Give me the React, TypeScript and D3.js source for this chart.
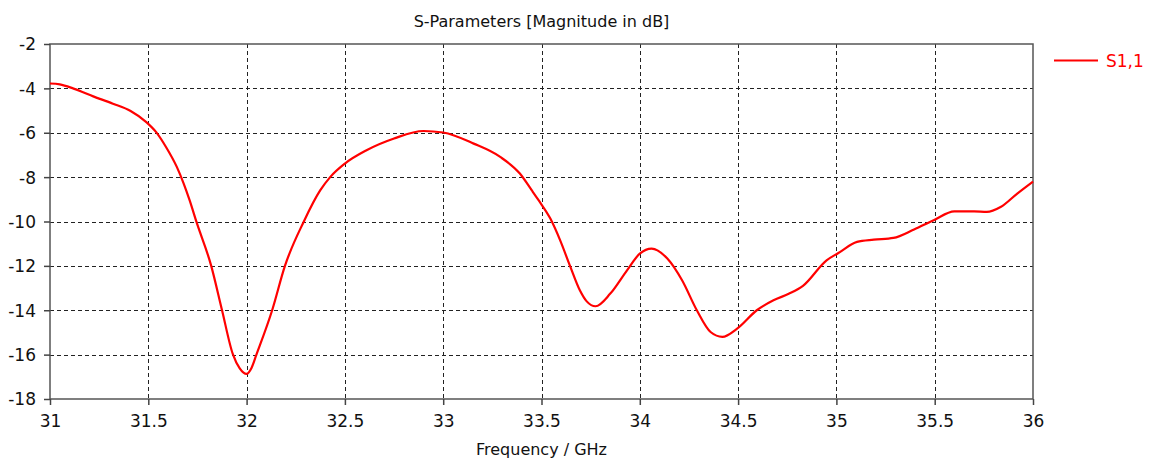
import * as d3 from 'd3';
import { useEffect, useRef } from 'react';

const freqGHz = [
  31.0, 31.05, 31.12, 31.22, 31.32, 31.41, 31.49, 31.54, 31.59, 31.645, 31.68, 31.71,
  31.745, 31.82, 31.875, 31.93, 31.965, 32.0, 32.025, 32.05, 32.13, 32.195, 32.29,
  32.375, 32.425, 32.5, 32.61, 32.75, 32.9, 33.0, 33.155, 33.29, 33.39, 33.45, 33.485,
  33.545, 33.595, 33.645, 33.695, 33.73, 33.775, 33.85, 33.935, 34.0, 34.06, 34.14,
  34.215, 34.29, 34.36, 34.42, 34.495, 34.595, 34.68, 34.76, 34.83, 34.95, 35.01,
  35.105, 35.19, 35.29, 35.395, 35.495, 35.6, 35.7, 35.765, 35.835, 35.92, 36.0,
];
const s11dB = [
  -3.78, -3.82, -4.01, -4.36, -4.69, -5.02, -5.52, -5.97, -6.64, -7.54, -8.29, -9.04,
  -10.02, -12.0, -14.0, -15.98, -16.62, -16.87, -16.6, -16.0, -14.0, -12.0, -10.02,
  -8.59, -8.0, -7.39, -6.79, -6.26, -5.92, -5.99, -6.49, -7.09, -7.84, -8.59, -9.04,
  -9.87, -10.85, -12.0, -13.1, -13.6, -13.82, -13.25, -12.2, -11.45, -11.22, -11.67,
  -12.65, -14.0, -14.98, -15.2, -14.83, -14.0, -13.55, -13.25, -12.9, -11.75, -11.42,
  -10.92, -10.82, -10.74, -10.36, -9.94, -9.54, -9.54, -9.57, -9.35, -8.74, -8.2,
];
const xTicks = [31, 31.5, 32, 32.5, 33, 33.5, 34, 34.5, 35, 35.5, 36];
const yTicks = [-2, -4, -6, -8, -10, -12, -14, -16, -18];
const seriesName = 'S1,1';

const W = 1149;
const H = 461;
const FONT = 'Tahoma, "DejaVu Sans", sans-serif';

export default function App() {
  const svgRef = useRef<SVGSVGElement>(null);

  useEffect(() => {
    const svg = d3.select(svgRef.current);
    svg.selectAll('*').remove();

    const margin = { top: 44, right: 116, bottom: 62, left: 50 };
    const x = d3.scaleLinear().domain([31, 36]).range([margin.left, W - margin.right]);
    const y = d3.scaleLinear().domain([-18, -2]).range([H - margin.bottom, margin.top]);

    svg.attr('width', W).attr('height', H)
      .style('position', 'absolute').style('left', 0).style('top', 0)
      .style('background', '#fff');

    // grid
    const grid = svg.append('g').attr('stroke', '#222').attr('stroke-width', 1)
      .attr('stroke-dasharray', '4,3');
    grid.selectAll('line.v').data(xTicks.slice(1, -1)).join('line')
      .attr('x1', d => Math.round(x(d)) + 0.5).attr('x2', d => Math.round(x(d)) + 0.5)
      .attr('y1', y(-2)).attr('y2', y(-18));
    grid.selectAll('line.h').data(yTicks.slice(1, -1)).join('line')
      .attr('y1', d => Math.round(y(d)) + 0.5).attr('y2', d => Math.round(y(d)) + 0.5)
      .attr('x1', x(31)).attr('x2', x(36));

    // frame
    svg.append('rect')
      .attr('x', x(31)).attr('y', y(-2))
      .attr('width', x(36) - x(31)).attr('height', y(-18) - y(-2))
      .attr('fill', 'none').attr('stroke', '#555').attr('stroke-width', 1.5);

    // axes
    const fmt = (d: d3.NumberValue) => String(d);
    const xAxis = svg.append('g')
      .attr('transform', `translate(0,${y(-18)})`)
      .call(d3.axisBottom(x).tickValues(xTicks).tickFormat(fmt).tickSize(6).tickPadding(10));
    const yAxis = svg.append('g')
      .attr('transform', `translate(${x(31)},0)`)
      .call(d3.axisLeft(y).tickValues(yTicks).tickFormat(fmt).tickSize(6).tickPadding(8));
    [xAxis, yAxis].forEach(a => {
      a.select('.domain').remove();
      a.selectAll('line').attr('stroke', '#444').attr('stroke-width', 1.5);
      a.selectAll('text').attr('font-family', FONT).attr('font-size', 17).attr('fill', '#111');
    });
    yAxis.selectAll('text').attr('dy', '0.35em');

    // curve
    const line = d3.line<number>()
      .x((_, i) => x(freqGHz[i]))
      .y(d => y(d))
      .curve(d3.curveMonotoneX);
    svg.append('path')
      .datum(s11dB)
      .attr('fill', 'none')
      .attr('stroke', '#ff0000')
      .attr('stroke-width', 2.2)
      .attr('stroke-linejoin', 'round')
      .attr('d', line);

    // title and axis label
    svg.append('text')
      .attr('x', (x(31) + x(36)) / 2).attr('y', 27)
      .attr('text-anchor', 'middle').attr('font-family', FONT).attr('font-size', 16)
      .attr('fill', '#111').text('S-Parameters [Magnitude in dB]');
    svg.append('text')
      .attr('x', (x(31) + x(36)) / 2).attr('y', 455)
      .attr('text-anchor', 'middle').attr('font-family', FONT).attr('font-size', 16)
      .attr('fill', '#111').text('Frequency / GHz');

    // legend
    svg.append('line')
      .attr('x1', 1054).attr('x2', 1098).attr('y1', 60.5).attr('y2', 60.5)
      .attr('stroke', '#ff0000').attr('stroke-width', 2.2);
    svg.append('text')
      .attr('x', 1106).attr('y', 67)
      .attr('font-family', FONT).attr('font-size', 17).attr('fill', '#ff0000')
      .text(seriesName);
  }, []);

  return <svg ref={svgRef} />;
}
